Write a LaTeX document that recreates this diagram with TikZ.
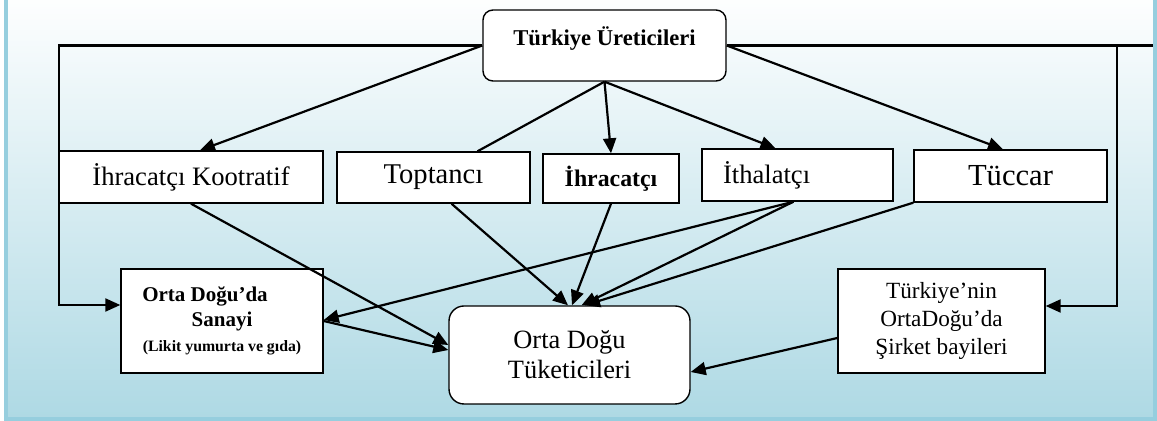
\documentclass[tikz,border=0pt]{standalone}
\usepackage{fontspec}
\setmainfont{Liberation Serif}
\usepackage{tikz}
\usetikzlibrary{arrows.meta, positioning, calc}
\definecolor{framecol}{RGB}{150,206,222}
\definecolor{bgbottom}{RGB}{174,217,228}
\tikzset{style={font=\fontsize{13.3pt}{16pt}\selectfont}}

\begin{document}
\begin{tikzpicture}[
            x=0.5pt, y=-0.5pt,
            >={Triangle[length=7.5pt,width=6.5pt]},
            line/.style={line width=1.1pt},
            box/.style={draw=black, line width=0.7pt, fill=white, inner sep=0pt},
            rbox/.style={box, rounded corners=5pt},
            ]
        \useasboundingbox (0,0) rectangle (1157,421);
        \shade[top color=white, bottom color=bgbottom] (6,-10) rectangle (1155,419);
        % boxes
        \node[rbox, minimum width=121.5pt, minimum height=35.5pt, text height=8pt, text depth=8pt,
              font=\bfseries\fontsize{11.3pt}{13pt}\selectfont] (uretici) at (604.5,45.5) {Türkiye Üreticileri};
        \node[box, minimum width=132pt, minimum height=26pt] (koop) at (191,177) {İhracatçı Kootratif};
        \node[box, minimum width=96.5pt, minimum height=25.5pt,
              font=\fontsize{14.3pt}{17pt}\selectfont] (toptanci) at (433.5,177.5) {Toptancı};
        \node[box, minimum width=68pt, minimum height=24.5pt,
              font=\bfseries\fontsize{11.9pt}{14pt}\selectfont] (ihracatci) at (611,178.5) {İhracatçı};
        \node[box, minimum width=95.5pt, minimum height=26pt] (ithalatci) at (797.5,175)
              {\makebox[95.5pt][l]{\hspace{10.5pt}İthalatçı}};
        \node[box, minimum width=96.5pt, minimum height=26pt,
              font=\fontsize{15.3pt}{18pt}\selectfont] (tuccar) at (1010.5,176) {Tüccar};
        \node[box, minimum width=101pt, minimum height=52pt, align=center,
              font=\bfseries\fontsize{10.5pt}{12.5pt}\selectfont] (sanayi) at (222,321)
              {Orta Doğu’da\hspace*{17pt}\\Sanayi\\{\fontsize{7.9pt}{11pt}\selectfont(Likit yumurta ve gıda)}};
        \node[rbox, rounded corners=7.5pt, minimum width=120.5pt, minimum height=49pt, align=center,
              font=\fontsize{13.2pt}{15pt}\selectfont] (tuketici) at (569.5,355) {Orta Doğu\\Tüketicileri};
        \node[box, minimum width=103.5pt, minimum height=52pt, align=center,
              font=\fontsize{11.6pt}{14pt}\selectfont] (bayi) at (941.5,321) {Türkiye’nin\\OrtaDoğu’da\\Şirket bayileri};
        % corners of the side lines
        \coordinate (solkose) at (59,45.5);
        \coordinate (sagkose) at (1117,45.5);
        \coordinate (sagkenar) at (1153,45.5);
        \draw[line,->] (uretici.west) -- (solkose) |- ([yshift=8pt]sanayi.west);
        \draw[line] (uretici.east) -- (sagkenar);
        \draw[line,->] (sagkose) |- ([yshift=7.5pt]bayi.east);
        % from the producers
        \draw[line,->] (uretici.west) -- ([xshift=4.5pt]koop.north);
        \draw[line] (uretici.south) -- ([xshift=22pt]toptanci.north);
        \draw[line,->] (uretici.south) -- (ihracatci.north);
        \draw[line,->] (uretici.south) -- ([xshift=-11pt]ithalatci.north);
        \draw[line,->] (uretici.east) -- ([xshift=-3.75pt]tuccar.north);
        % to the consumers
        \draw[line,->] (koop.south) -- ([yshift=5pt]tuketici.west);
        \draw[line,->] (sanayi.east) -- ([yshift=2.5pt]tuketici.west);
        \draw[line,->] ([xshift=-2pt]ithalatci.south) -- ([yshift=0.5pt]sanayi.east);
        \draw[line,->] ([xshift=9pt]toptanci.south) -- ([xshift=-0.75pt]tuketici.north);
        \draw[line,->] (ihracatci.south) -- ([xshift=1.25pt]tuketici.north);
        \draw[line,->] ([xshift=-2pt]ithalatci.south) -- ([xshift=6pt]tuketici.north);
        \draw[line,->] (tuccar.south west) -- ([xshift=7.75pt]tuketici.north);
        \draw[line,->] ([yshift=-8.5pt]bayi.west) -- ([yshift=-8.5pt]tuketici.east);
        \draw[framecol, line width=1.8pt] (6,-10) rectangle (1155,419);
        \end{tikzpicture}
\end{document}
